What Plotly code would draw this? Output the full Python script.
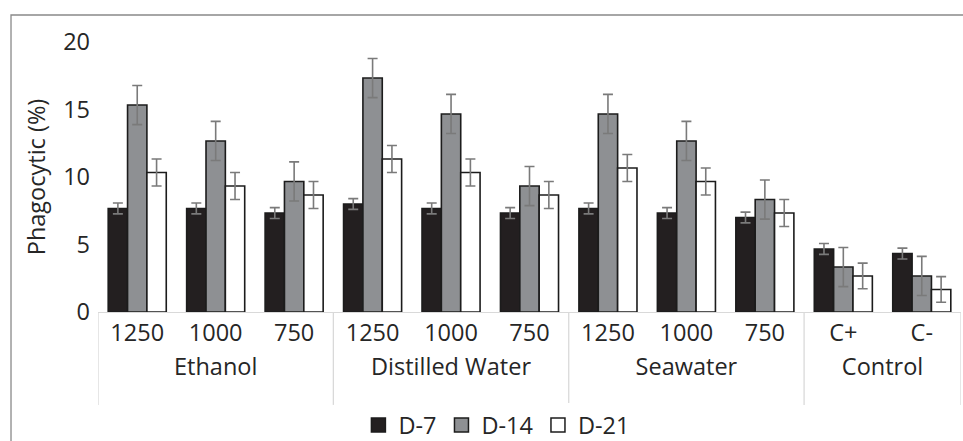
import plotly.graph_objects as go

groups = ["Ethanol"] * 3 + ["Distilled Water"] * 3 + ["Seawater"] * 3 + ["Control"] * 2
subs = ["1250", "1000", "750", "1250", "1000", "750", "1250", "1000", "750", "C+", "C-"]

d7 = [7.67, 7.67, 7.33, 8.00, 7.67, 7.33, 7.67, 7.33, 7.00, 4.67, 4.33]
d14 = [15.33, 12.67, 9.67, 17.33, 14.67, 9.33, 14.67, 12.67, 8.33, 3.33, 2.67]
d21 = [10.33, 9.33, 8.67, 11.33, 10.33, 8.67, 10.67, 9.67, 7.33, 2.67, 1.67]

e7 = [0.4, 0.4, 0.4, 0.4, 0.4, 0.4, 0.4, 0.4, 0.4, 0.4, 0.4]
e14 = [1.45, 1.45, 1.45, 1.45, 1.45, 1.45, 1.45, 1.45, 1.45, 1.45, 1.45]
e21 = [1.0, 1.0, 1.0, 1.0, 1.0, 1.0, 1.0, 1.0, 1.0, 0.95, 0.95]

series = [
    ("D-7", d7, e7, "#231f20"),
    ("D-14", d14, e14, "#8e9093"),
    ("D-21", d21, e21, "#ffffff"),
]

FONT = "Open Sans"
TXT = "#262626"
FS = 23.5
EDGE = "#1c1c1c"
DIV = "#d9d9d9"

fig = go.Figure()
for name, vals, errs, col in series:
    fig.add_trace(go.Bar(
        name=name,
        x=[groups, subs],
        y=vals,
        showlegend=False,
        marker=dict(color=col, line=dict(color=EDGE, width=1.6)),
        error_y=dict(type="data", array=errs, visible=True,
                     color="#7a7a7a", thickness=1.6, width=5),
    ))
# legend-only entries with larger square swatches
for name, vals, errs, col in series:
    fig.add_trace(go.Scatter(
        name=name, x=[None], y=[None], mode="markers",
        marker=dict(symbol="square", size=14, color=col, line=dict(color=EDGE, width=1.5)),
        showlegend=True,
    ))

# group divider positions (category serial numbers at group boundaries)
bounds = [-0.5]
for i in range(1, len(groups)):
    if groups[i] != groups[i - 1]:
        bounds.append(i - 0.5)
bounds.append(len(groups) - 0.5)

shapes = [dict(type="rect", xref="paper", yref="paper",
               x0=-0.1008, x1=1.05, y0=-0.7, y1=1.1,
               line=dict(color="#898989", width=1.3), fillcolor="rgba(0,0,0,0)",
               layer="below")]
for b in bounds:
    shapes.append(dict(type="line", xref="x", yref="paper", x0=b, x1=b, y0=0, y1=-0.344,
                       line=dict(color=DIV, width=1.3)))

fig.update_layout(
    width=963, height=441, autosize=False,
    margin=dict(l=98, r=2, t=42, b=129),
    paper_bgcolor="white", plot_bgcolor="white",
    font=dict(family=FONT, size=FS, color=TXT),
    barmode="group", bargap=0.26, bargroupgap=0,
    showlegend=True,
    legend=dict(orientation="h", xref="container", yref="container",
                x=0.516, xanchor="center", y=0.036, yanchor="middle",
                font=dict(size=FS, color=TXT), itemclick=False, itemwidth=30),
    shapes=shapes,
)

fig.update_xaxes(
    type="multicategory", automargin=False,
    range=[-0.5, len(groups) - 0.5],
    showline=True, linecolor=DIV, linewidth=1.3,
    showgrid=False, ticks="",
    showdividers=False,
    tickfont=dict(family=FONT, size=FS, color=TXT),
)
fig.update_yaxes(
    range=[0, 20], tickvals=[0, 5, 10, 15, 20], automargin=False,
    showgrid=False, zeroline=False, showline=False, ticks="",
    ticklabelstandoff=7,
    tickfont=dict(family=FONT, size=FS, color=TXT),
    title=dict(text="Phagocytic (%)", font=dict(family=FONT, size=FS, color=TXT), standoff=10),
)

fig.write_html("out.html",
               config={"displayModeBar": False, "responsive": False},
               default_width="963px", default_height="441px",
               post_script="document.body.style.margin='0';")
